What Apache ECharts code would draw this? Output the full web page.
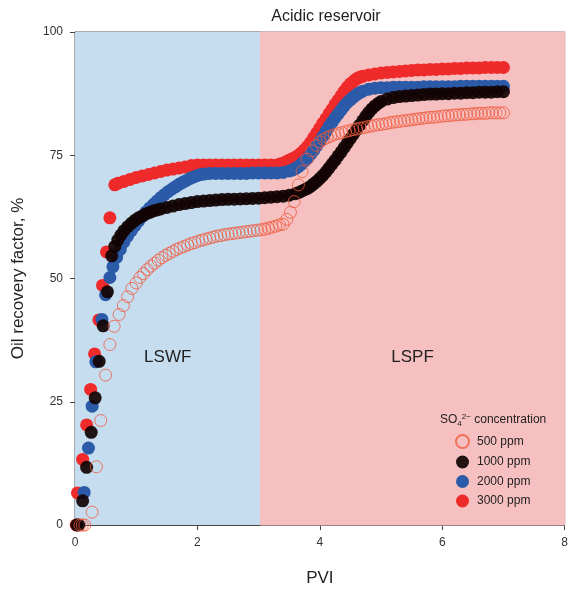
<!DOCTYPE html>
<html>
<head>
<meta charset="utf-8">
<script src="https://cdn.jsdelivr.net/npm/echarts@6/dist/echarts.min.js"></script>
<style>
  html, body { margin: 0; padding: 0; background: #fff; }
  #chart { width: 571px; height: 592px; }
</style>
</head>
<body>
<div id="chart"></div>
<script>
// PVI vs oil recovery factor (%)
const rf500 = [
  [0.08, 0], [0.12, 0], [0.16, 0], [0.28, 2.6], [0.35, 11.8], [0.42, 21.2], [0.50, 30.4],
  [0.57, 36.6], [0.64, 40.3], [0.72, 42.7], [0.79, 44.5], [0.86, 46.3], [0.93, 48.0],
  [1.00, 49.1], [1.06, 50.2], [1.12, 51.0], [1.18, 51.8], [1.24, 52.5], [1.30, 53.1],
  [1.36, 53.7], [1.42, 54.2], [1.48, 54.7], [1.54, 55.1], [1.60, 55.5], [1.66, 55.9],
  [1.72, 56.2], [1.78, 56.5], [1.84, 56.8], [1.90, 57.1], [1.96, 57.3], [2.02, 57.6],
  [2.08, 57.8], [2.14, 58.0], [2.20, 58.2], [2.26, 58.4], [2.32, 58.6], [2.38, 58.7],
  [2.44, 58.9], [2.50, 59.0], [2.56, 59.1], [2.62, 59.2], [2.68, 59.3], [2.74, 59.4],
  [2.80, 59.5], [2.86, 59.6], [2.92, 59.7], [2.98, 59.8], [3.04, 59.9], [3.10, 60.0],
  [3.16, 60.2], [3.22, 60.4], [3.28, 60.6], [3.34, 60.9], [3.40, 61.0], [3.46, 62.0],
  [3.52, 63.4], [3.58, 65.6], [3.65, 69.0], [3.71, 71.7], [3.79, 74.2], [3.87, 75.9],
  [3.94, 77.0], [4.00, 77.7], [4.06, 78.2], [4.12, 78.6], [4.18, 78.9], [4.24, 79.2],
  [4.30, 79.4], [4.36, 79.6], [4.42, 79.8], [4.48, 80.0], [4.54, 80.2], [4.60, 80.3],
  [4.66, 80.5], [4.72, 80.6], [4.78, 80.8], [4.84, 80.9], [4.90, 81.1], [4.96, 81.2],
  [5.02, 81.3], [5.08, 81.4], [5.14, 81.6], [5.20, 81.7], [5.26, 81.8], [5.32, 81.9],
  [5.38, 82.0], [5.44, 82.1], [5.50, 82.2], [5.56, 82.3], [5.62, 82.4], [5.68, 82.5],
  [5.74, 82.6], [5.80, 82.7], [5.86, 82.7], [5.92, 82.8], [5.98, 82.9], [6.04, 83.0],
  [6.10, 83.0], [6.16, 83.1], [6.22, 83.2], [6.28, 83.2], [6.34, 83.3], [6.40, 83.3],
  [6.46, 83.4], [6.52, 83.4], [6.58, 83.5], [6.64, 83.5], [6.70, 83.5], [6.76, 83.6],
  [6.82, 83.6], [6.88, 83.6], [6.94, 83.6], [7.00, 83.6]
];

const rf1000 = [
  [0.03, 0], [0.06, 0], [0.125, 4.9], [0.19, 11.7], [0.265, 18.8], [0.33, 25.8], [0.395, 33.2],
  [0.46, 40.4], [0.53, 47.3], [0.60, 54.6], [0.65, 56.5], [0.70, 57.8], [0.75, 58.8],
  [0.80, 59.7], [0.86, 60.5], [0.92, 61.2], [0.98, 61.8], [1.04, 62.3], [1.10, 62.7],
  [1.16, 63.1], [1.22, 63.4], [1.28, 63.7], [1.34, 63.9], [1.40, 64.1], [1.50, 64.4],
  [1.60, 64.7], [1.70, 65.0], [1.80, 65.2], [1.90, 65.4], [2.00, 65.6], [2.10, 65.7],
  [2.20, 65.8], [2.30, 65.9], [2.40, 66.0], [2.50, 66.05], [2.60, 66.1], [2.70, 66.15],
  [2.80, 66.2], [2.90, 66.25], [3.00, 66.3], [3.10, 66.4], [3.20, 66.5], [3.30, 66.6],
  [3.40, 66.7], [3.50, 66.9], [3.60, 67.2], [3.65, 67.4], [3.70, 67.7], [3.75, 68.0],
  [3.80, 68.3], [3.85, 68.7], [3.90, 69.2], [3.95, 69.7], [4.00, 70.3], [4.05, 70.9],
  [4.10, 71.6], [4.15, 72.4], [4.20, 73.2], [4.25, 74.0], [4.30, 74.9], [4.35, 75.7],
  [4.40, 76.6], [4.45, 77.5], [4.50, 78.4], [4.55, 79.3], [4.60, 80.2], [4.65, 81.1],
  [4.70, 82.0], [4.75, 82.9], [4.80, 83.7], [4.85, 84.4], [4.90, 85.0], [4.95, 85.5],
  [5.00, 85.9], [5.10, 86.4], [5.20, 86.7], [5.30, 86.9], [5.40, 87.0], [5.50, 87.1],
  [5.60, 87.2], [5.70, 87.3], [5.80, 87.4], [5.90, 87.4], [6.00, 87.5], [6.10, 87.5],
  [6.20, 87.6], [6.30, 87.6], [6.40, 87.7], [6.50, 87.7], [6.60, 87.8], [6.70, 87.8],
  [6.80, 87.8], [6.90, 87.9], [7.00, 87.9]
];

const rf2000 = [
  [0.15, 6.6], [0.22, 15.6], [0.28, 24.1], [0.34, 33.1], [0.44, 41.7], [0.50, 46.7],
  [0.57, 50.2], [0.62, 52.4], [0.68, 54.3], [0.74, 55.9], [0.80, 57.4], [0.86, 58.6],
  [0.92, 59.7], [0.98, 60.7], [1.04, 61.7], [1.10, 62.6], [1.16, 63.5], [1.22, 64.3],
  [1.28, 65.0], [1.34, 65.7], [1.40, 66.4], [1.46, 67.0], [1.52, 67.6], [1.58, 68.1],
  [1.64, 68.6], [1.70, 69.1], [1.76, 69.5], [1.82, 69.9], [1.88, 70.3], [1.94, 70.6],
  [2.00, 70.9], [2.06, 71.1], [2.12, 71.2], [2.20, 71.3], [2.30, 71.3], [2.40, 71.3],
  [2.50, 71.3], [2.60, 71.3], [2.70, 71.3], [2.80, 71.3], [2.90, 71.4], [3.00, 71.4],
  [3.10, 71.4], [3.20, 71.4], [3.30, 71.4], [3.40, 71.5], [3.50, 71.8], [3.55, 72.0],
  [3.60, 72.3], [3.65, 72.7], [3.70, 73.2], [3.75, 73.8], [3.80, 74.4], [3.85, 75.2],
  [3.90, 76.0], [3.95, 76.9], [4.00, 77.8], [4.05, 78.8], [4.10, 79.8], [4.15, 80.8],
  [4.20, 81.7], [4.25, 82.6], [4.30, 83.4], [4.35, 84.2], [4.40, 85.0], [4.45, 85.7],
  [4.50, 86.3], [4.55, 86.8], [4.60, 87.3], [4.65, 87.7], [4.70, 88.0], [4.80, 88.4],
  [4.90, 88.6], [5.00, 88.7], [5.10, 88.7], [5.20, 88.8], [5.30, 88.8], [5.40, 88.8],
  [5.50, 88.8], [5.60, 88.8], [5.70, 88.9], [5.80, 88.9], [5.90, 88.9], [6.00, 88.9],
  [6.10, 88.9], [6.20, 88.9], [6.30, 89.0], [6.40, 89.0], [6.50, 89.0], [6.60, 89.0],
  [6.70, 89.0], [6.80, 89.0], [6.90, 89.0], [7.00, 89.0]
];

const rf3000 = [
  [0.02, 0], [0.04, 6.5], [0.125, 13.3], [0.19, 20.3], [0.255, 27.5], [0.32, 34.7],
  [0.39, 41.6], [0.45, 48.6], [0.515, 55.4], [0.57, 62.3], [0.65, 69.0], [0.70, 69.3],
  [0.80, 69.7], [0.90, 70.1], [1.00, 70.5], [1.10, 70.8], [1.20, 71.1], [1.30, 71.4],
  [1.40, 71.7], [1.50, 72.0], [1.60, 72.2], [1.70, 72.4], [1.80, 72.6], [1.90, 72.9],
  [2.00, 73.0], [2.10, 73.0], [2.20, 73.0], [2.30, 73.0], [2.40, 73.0], [2.50, 73.0],
  [2.60, 73.0], [2.70, 73.0], [2.80, 73.0], [2.90, 73.0], [3.00, 73.0], [3.10, 73.0],
  [3.20, 73.0], [3.30, 73.0], [3.35, 73.2], [3.40, 73.4], [3.45, 73.7], [3.50, 74.0],
  [3.55, 74.3], [3.60, 74.6], [3.65, 75.0], [3.70, 75.5], [3.75, 76.1], [3.80, 76.8],
  [3.85, 77.6], [3.90, 78.6], [3.95, 79.5], [4.00, 80.5], [4.05, 81.5], [4.10, 82.4],
  [4.15, 83.4], [4.20, 84.3], [4.25, 85.3], [4.30, 86.2], [4.35, 87.1], [4.40, 88.0],
  [4.45, 88.8], [4.50, 89.5], [4.55, 90.0], [4.60, 90.5], [4.65, 90.8], [4.70, 91.0],
  [4.80, 91.3], [4.90, 91.5], [5.00, 91.7], [5.10, 91.8], [5.20, 91.9], [5.30, 92.0],
  [5.40, 92.1], [5.50, 92.2], [5.60, 92.3], [5.70, 92.3], [5.80, 92.4], [5.90, 92.4],
  [6.00, 92.5], [6.10, 92.5], [6.20, 92.6], [6.30, 92.6], [6.40, 92.7], [6.50, 92.7],
  [6.60, 92.7], [6.70, 92.8], [6.80, 92.8], [6.90, 92.8], [7.00, 92.8]
];

const legendNames = ['500 ppm', '1000 ppm', '2000 ppm', '3000 ppm'];
const phaseNames = ['LSWF', 'LSPF'];
const phaseBounds = [0, 3.03, 8];

const font = 'Liberation Sans, Arial, sans-serif';
const chart = echarts.init(document.getElementById('chart'));

function filled(name, data, color) {
  return {
    name: name,
    type: 'scatter',
    data: data,
    symbol: 'circle',
    symbolSize: 13,
    z: 3,
    itemStyle: { color: color, opacity: 1 },
    emphasis: { disabled: true }
  };
}

chart.setOption({
  animation: false,
  title: {
    text: 'Acidic reservoir',
    left: 321,
    top: 4,
    textAlign: 'center',
    textStyle: { fontFamily: font, fontSize: 16, fontWeight: 'normal', color: '#222' }
  },
  grid: {
    left: 75, right: 4, top: 32, bottom: 67,
    show: true, borderColor: '#555', borderWidth: 1, backgroundColor: 'transparent'
  },
  xAxis: {
    type: 'value', min: 0, max: 8, interval: 2,
    name: 'PVI', nameLocation: 'middle', nameGap: 45,
    nameTextStyle: { fontFamily: font, fontSize: 17, color: '#222' },
    axisLine: { lineStyle: { color: '#444' } },
    axisTick: { show: true, length: 5, lineStyle: { color: '#444' } },
    axisLabel: { fontFamily: font, fontSize: 12, color: '#333', margin: 12 },
    splitLine: { show: false }
  },
  yAxis: {
    type: 'value', min: 0, max: 100, interval: 25,
    name: 'Oil recovery factor, %', nameLocation: 'middle', nameGap: 48,
    nameTextStyle: { fontFamily: font, fontSize: 17, color: '#222' },
    axisLine: { show: true, lineStyle: { color: '#444' } },
    axisTick: { show: true, length: 5, lineStyle: { color: '#444' } },
    axisLabel: { fontFamily: font, fontSize: 12, color: '#333', margin: 12 },
    splitLine: { show: false }
  },
  legend: {
    data: legendNames,
    orient: 'vertical',
    left: 455, top: 434,
    padding: 0,
    itemWidth: 13, itemHeight: 13, itemGap: 6.5,
    textStyle: { fontFamily: font, fontSize: 12, color: '#222', padding: [0, 0, 0, 3] }
  },
  graphic: [{
    type: 'text',
    left: 440, top: 413,
    z: 100,
    style: {
      text: 'SO{sub|4}{sup|2\u2212} concentration',
      font: '12px ' + font,
      fill: '#222',
      rich: {
        sub: { fontSize: 8, fontFamily: font, fill: '#222', padding: [7, 0, 0, 0] },
        sup: { fontSize: 8, fontFamily: font, fill: '#222', padding: [0, 0, 6, 0] }
      }
    }
  }],
  series: [
    {
      name: 'phases',
      type: 'scatter',
      data: [],
      z: 1,
      silent: true,
      markArea: {
        silent: true,
        label: {
          show: true, position: 'inside', offset: [0, 79],
          fontFamily: font, fontSize: 17, color: '#222'
        },
        data: [
          [{ name: phaseNames[0], xAxis: phaseBounds[0], yAxis: 0, itemStyle: { color: '#c6ddef' } },
           { xAxis: phaseBounds[1], yAxis: 100 }],
          [{ name: phaseNames[1], xAxis: phaseBounds[1], yAxis: 0, itemStyle: { color: '#f6c0c0', borderColor: '#f6c0c0', borderWidth: 1 } },
           { xAxis: phaseBounds[2], yAxis: 100 }]
        ]
      }
    },
    filled(legendNames[3], rf3000, '#ee2a2a'),
    filled(legendNames[2], rf2000, '#2a5aa8'),
    filled(legendNames[1], rf1000, 'rgba(18,4,4,0.93)'),
    {
      name: legendNames[0],
      type: 'scatter',
      data: rf500,
      symbol: 'circle',
      symbolSize: 12,
      z: 4,
      itemStyle: { color: 'rgba(255,255,255,0)', borderColor: '#ef5b3e', borderWidth: 1 },
      emphasis: { disabled: true }
    }
  ]
});
</script>
</body>
</html>
